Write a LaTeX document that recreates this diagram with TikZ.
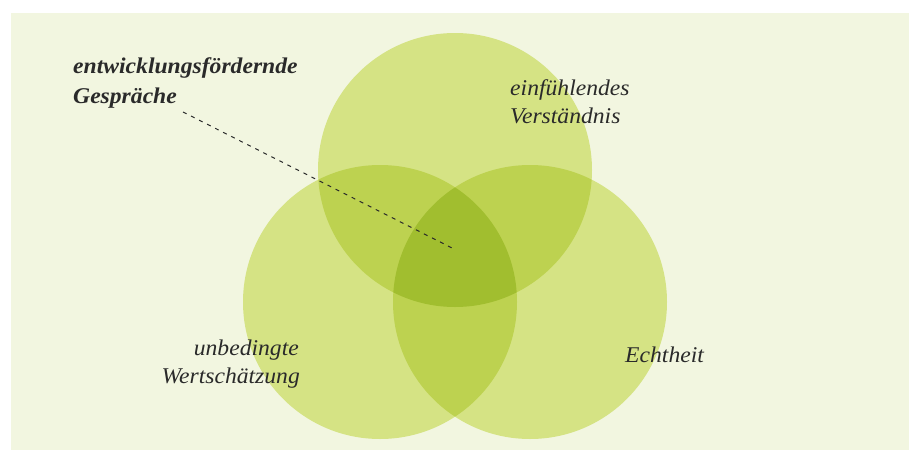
\documentclass[tikz,border=0pt]{standalone}
\usepackage{fontspec}
\setmainfont[FakeStretch=1.05]{Liberation Serif}
\definecolor{bgc}{HTML}{F2F6E0}
\definecolor{cone}{HTML}{D5E384}
\definecolor{ctwo}{HTML}{BDD250}
\definecolor{cthree}{HTML}{A1BE2F}
\definecolor{txt}{HTML}{2A2A2A}
\begin{document}
\begin{tikzpicture}[x=1pt,y=-1pt,
  lbl/.style={inner sep=0pt, font=\fontsize{22.5}{28}\selectfont\itshape, text=txt},
  boldlbl/.style={lbl, font=\fontsize{22.5}{28}\selectfont\itshape\bfseries},
  leader/.style={draw=txt, line width=1pt, dash pattern=on 4pt off 5pt}]
\useasboundingbox (0,0) rectangle (914,450);
\fill[bgc] (11,13) rectangle (909,450);
\coordinate (ct) at (455,170);
\coordinate (cl) at (380,302);
\coordinate (cr) at (530,302);
\fill[cone] (ct) circle[radius=137];
\fill[cone] (cl) circle[radius=137];
\fill[cone] (cr) circle[radius=137];
\begin{scope}
  \clip (ct) circle[radius=137];
  \fill[ctwo] (cl) circle[radius=137];
  \fill[ctwo] (cr) circle[radius=137];
\end{scope}
\begin{scope}
  \clip (cl) circle[radius=137];
  \fill[ctwo] (cr) circle[radius=137];
\end{scope}
\begin{scope}
  \clip (ct) circle[radius=137];
  \clip (cl) circle[radius=137];
  \fill[cthree] (cr) circle[radius=137];
\end{scope}
\node[boldlbl, anchor=base west] (g1) at (73,73) {entwicklungsfördernde};
\node[boldlbl, anchor=base west] (g2) at (73,103) {Gespräche};
\node[lbl, anchor=base west] (e1) at (510,95) {einfühlendes};
\node[lbl, anchor=base west] (e2) at (510,123) {Verständnis};
\node[lbl, anchor=base west] (ec) at (625,362) {Echtheit};
\node[lbl, anchor=base east] (u1) at (299,355) {unbedingte};
\node[lbl, anchor=base east] (u2) at (300,383) {Wertschätzung};
\coordinate (dstart) at (183,112);
\coordinate (dend) at (456,250);
\draw[leader] (dstart) -- (dend);
\end{tikzpicture}
\end{document}
